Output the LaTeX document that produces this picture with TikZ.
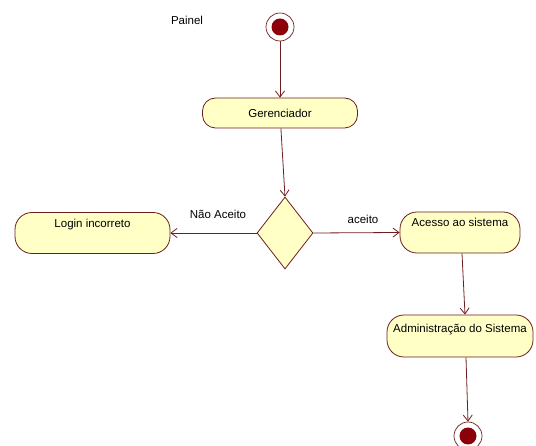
\documentclass[tikz,border=0pt]{standalone}
\usepackage{fontspec}
\setmainfont{Liberation Sans}
\usetikzlibrary{shapes.geometric,arrows.meta}
\definecolor{umlfill}{RGB}{255,255,198}
\definecolor{umlline}{RGB}{110,30,30}
\definecolor{umldot}{RGB}{140,0,10}
\tikzset{
  act/.style={draw=umlline, fill=umlfill, line width=0.8pt, rounded corners=17pt, font=\fontsize{11.5}{13}\selectfont, inner sep=0pt},
  dec/.style={draw=umlline, fill=umlfill, line width=0.8pt, diamond, minimum width=56pt, minimum height=72pt, inner sep=0pt},
  flow/.style={draw=umlline, line width=0.8pt, -{Straight Barb[length=6pt,width=9pt]}},
  lbl/.style={font=\fontsize{11.5}{13}\selectfont, inner sep=0pt},
  startdot/.style={circle, fill=umldot, minimum size=17pt, inner sep=0pt},
  ring/.style={circle, draw=umlline, fill=white, line width=0.7pt, minimum size=28pt, inner sep=0pt}
}
\begin{document}
\begin{tikzpicture}[x=1pt,y=-1pt]
\useasboundingbox (0,0) rectangle (536,446);
% start
\node[ring] (start) at (280,27) {};
\node[startdot] (startin) at (280,27) {};
\node[lbl] (painel) at (187,20) {Painel};
% activities
\node[act, rounded corners=13pt, minimum width=155pt, minimum height=30pt] (ger) at (280,113) {Gerenciador};
\node[dec] (dec) at (285,233) {};
\node[act, minimum width=155pt, minimum height=41pt, text height=8pt, text depth=18pt] (login) at (92.5,233) {Login incorreto};
\node[act, minimum width=120pt, minimum height=41pt, text height=8pt, text depth=19pt] (acesso) at (460,232.5) {Acesso ao sistema};
\node[act, minimum width=146pt, minimum height=42pt, text height=8pt, text depth=15pt] (admin) at (460,336) {Administração do Sistema};
% end
\node[ring] (end) at (468,436) {};
\node[startdot] (endin) at (468,436) {};
% flows
\draw[flow] (start) -- (ger);
\draw[flow] (ger) -- (dec.north);
\draw[flow] (dec.west) -- (login.east);
\draw[flow] (dec.east) -- (acesso.west);
\draw[flow] (acesso.south -| 462,0) -- (admin.north -| 465,0);
\draw[flow] (admin.south -| 466,0) -- (end.north);
% labels
\node[lbl] (na) at (218,214) {Não Aceito};
\node[lbl] (ac) at (363,219) {aceito};
\end{tikzpicture}
\end{document}
